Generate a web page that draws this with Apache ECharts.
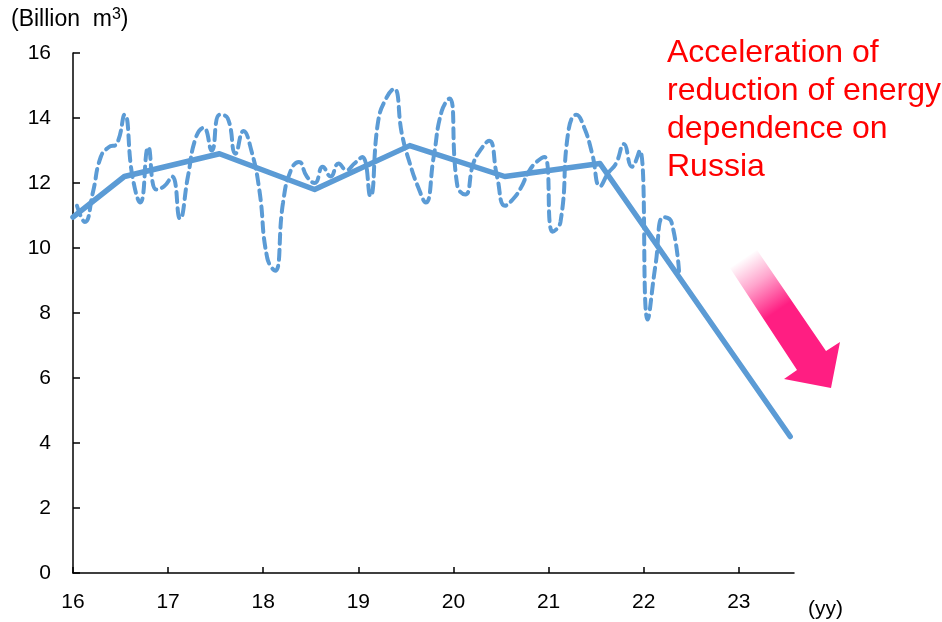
<!DOCTYPE html>
<html>
<head>
<meta charset="utf-8">
<script src="https://cdn.jsdelivr.net/npm/echarts@6/dist/echarts.min.js"></script>
<style>
  html, body { margin: 0; padding: 0; background: #fff; }
  #chart { width: 942px; height: 622px; }
</style>
</head>
<body>
<div id="chart"></div>
<script>
// Monthly imports (billion m3), Jan 2016 onward; each point sits mid-month.
const firstYear = 16;
const monthlyImports = [
  11.3, 10.8, 11.7, 12.8, 13.1, 13.2, 14.1, 12.2, 11.4, 13.1, 11.8, 11.9,   // 2016
  12.2, 10.9, 12.2, 13.4, 13.7, 13.0, 14.1, 14.0, 12.9, 13.6, 13.0, 11.8,   // 2017
  9.7, 9.3, 11.4, 12.4, 12.65, 12.2, 12.0, 12.5, 12.2, 12.6, 12.4, 12.6,    // 2018
  12.8, 11.6, 13.9, 14.6, 14.9, 13.5, 12.6, 11.9, 11.4, 12.8, 14.2, 14.6,   // 2019
  11.9, 11.65, 12.6, 13.05, 13.3, 12.2, 11.3, 11.5, 11.85, 12.35, 12.65, 12.8, // 2020
  10.5, 10.8, 13.6, 14.1, 13.7, 12.9, 11.9, 12.3, 12.6, 13.2, 12.5, 13.0,   // 2021
  7.8, 9.5, 10.95, 10.8, 9.1                                                // 2022
];

// Trend line: half-year averages and the projection to the end of 2023
const trendPos = [16.0, 16.54, 17.54, 18.54, 19.54, 20.54, 21.54, 22.54, 23.54];
const trendValues = [10.95, 12.2, 12.9, 11.8, 13.15, 12.2, 12.6, 8.4, 4.2];

const xTicks = [16, 17, 18, 19, 20, 21, 22, 23];
const yTicks = [0, 2, 4, 6, 8, 10, 12, 14, 16];

const monthlyData = monthlyImports.map((v, i) => [firstYear + (i + 0.5) / 12, v]);
const trendData = trendPos.map((x, i) => [x, trendValues[i]]);

const FONT = 'Arial, "Liberation Sans", sans-serif';
const BLUE = '#5B9BD5';
const PINK = '#FF1E82';

const chart = echarts.init(document.getElementById('chart'), null, { renderer: 'canvas' });

chart.setOption({
  animation: false,
  backgroundColor: '#ffffff',
  grid: { left: 73, right: 148, top: 53, bottom: 49, containLabel: false },
  xAxis: {
    type: 'value',
    min: xTicks[0],
    max: 23.58,
    interval: 1,
    splitLine: { show: false },
    axisLine: { show: true, onZero: false, lineStyle: { color: '#000', width: 1.5 } },
    axisTick: { show: true, inside: true, length: 6, lineStyle: { color: '#000', width: 1.5 } },
    axisLabel: {
      showMaxLabel: false,
      margin: 19,
      color: '#000',
      fontFamily: FONT,
      fontSize: 21,
      formatter: v => (xTicks.indexOf(v) >= 0 ? String(v) : '')
    }
  },
  yAxis: {
    type: 'value',
    min: yTicks[0],
    max: yTicks[yTicks.length - 1],
    interval: 2,
    splitLine: { show: false },
    axisLine: { show: true, lineStyle: { color: '#000', width: 1.5 } },
    axisTick: { show: true, inside: true, length: 7, lineStyle: { color: '#000', width: 1.5 } },
    axisLabel: {
      margin: 22,
      color: '#000',
      fontFamily: FONT,
      fontSize: 21
    }
  },
  series: [
    {
      name: 'Half-year average',
      type: 'line',
      data: trendData,
      showSymbol: false,
      lineStyle: { color: BLUE, width: 5.5, cap: 'round', join: 'round' },
      z: 2
    },
    {
      name: 'Monthly',
      type: 'line',
      data: monthlyData,
      smooth: 0.5,
      showSymbol: false,
      lineStyle: { color: BLUE, width: 4, type: [10, 6], cap: 'round' },
      z: 3
    }
  ],
  graphic: [
    {
      type: 'text',
      left: 11,
      top: 7,
      style: {
        text: '(Billion  m{sup|3})',
        font: '23px ' + FONT,
        fill: '#000',
        rich: {
          sup: { fontSize: 16, fontFamily: FONT, fill: '#000', verticalAlign: 'top', lineHeight: 26 }
        }
      }
    },
    {
      type: 'text',
      left: 808,
      top: 599,
      style: { text: '(yy)', font: '21px ' + FONT, fill: '#000' }
    },
    {
      type: 'text',
      left: 667,
      top: 34,
      style: {
        text: 'Acceleration of\nreduction of energy\ndependence on\nRussia',
        font: '32px ' + FONT,
        lineHeight: 38,
        fill: '#FF0000'
      }
    },
    {
      type: 'polygon',
      shape: {
        points: [[757, 250], [826, 351], [840, 342], [831, 388], [784, 379], [797, 370], [730, 268]]
      },
      style: {
        fill: new echarts.graphic.LinearGradient(0.12, 0.06, 0.92, 1.0, [
          { offset: 0, color: 'rgba(255,30,130,0)' },
          { offset: 0.18, color: 'rgba(255,30,130,0.4)' },
          { offset: 0.4, color: PINK },
          { offset: 1, color: PINK }
        ])
      }
    }
  ]
});
</script>
</body>
</html>
